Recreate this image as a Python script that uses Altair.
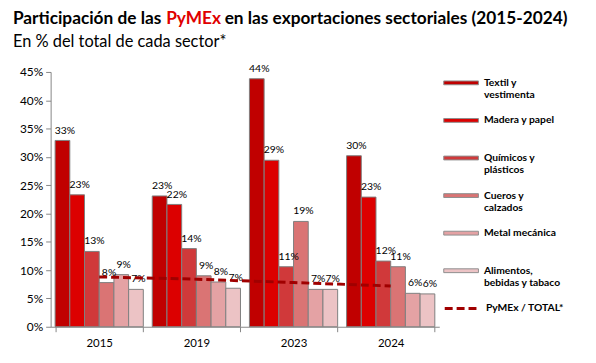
import altair as alt
import pandas as pd

years = ["2015", "2019", "2023", "2024"]
sectors = ["Textil y vestimenta", "Madera y papel", "Químicos y plásticos",
           "Cueros y calzados", "Metal mecánica", "Alimentos, bebidas y tabaco"]
legend_lines = {
    "Textil y vestimenta": ["Textil y", "vestimenta"],
    "Madera y papel": ["Madera y papel", ""],
    "Químicos y plásticos": ["Químicos y", "plásticos"],
    "Cueros y calzados": ["Cueros y", "calzados"],
    "Metal mecánica": ["Metal mecánica", ""],
    "Alimentos, bebidas y tabaco": ["Alimentos,", "bebidas y tabaco"],
}
textil = [32.9, 23.1, 43.8, 30.2]
madera = [23.3, 21.6, 29.4, 22.9]
quimicos = [13.3, 13.8, 10.6, 11.6]
cueros = [7.8, 9.0, 18.6, 10.6]
metal = [9.2, 7.9, 6.6, 5.9]
alimentos = [6.6, 6.8, 6.6, 5.8]
total = [8.8, 8.4, 7.8, 7.2]
total_name = "PyMEx / TOTAL*"
colors = ["#C00000", "#DC0000", "#D0393A", "#DA7474", "#E4A2A4", "#ECC3C5"]
y_ticks = [0, 5, 10, 15, 20, 25, 30, 35, 40, 45]
title_a = "Participación de las"
title_b = "PyMEx"
title_c = "en las exportaciones sectoriales (2015-2024)"
subtitle = "En % del total de cada sector*"

series = [textil, madera, quimicos, cueros, metal, alimentos]
rows = []
for s, vals in zip(sectors, series):
    for y, v in zip(years, vals):
        rows.append({"year": y, "sector": s, "value": v})
df = pd.DataFrame(rows)
df_tot = pd.DataFrame({"year": years, "value": total, "serie": [total_name] * len(years)})

FONT = "Lato"

label_expr = " : ".join(
    [f"datum.label == '{k}' ? {v!r}" for k, v in legend_lines.items()]
) + " : datum.label"

x_enc = alt.X("year:N", sort=years,
              scale=alt.Scale(paddingInner=0.092, paddingOuter=0.046),
              axis=alt.Axis(title=None, tickBand="extent", labelAngle=0,
                            labelPadding=6, labelFontSize=11.5))
y_enc = alt.Y("value:Q", scale=alt.Scale(domain=[0, 45], nice=False),
              axis=alt.Axis(title=None, values=y_ticks, labelExpr="datum.value + '%'",
                            labelFontSize=12, labelPadding=3, labelOverlap=False,
                            tickCount=10))
xoff = alt.XOffset("sector:N", sort=sectors,
                   scale=alt.Scale(paddingInner=0, paddingOuter=0))

bars = alt.Chart(df).mark_bar(stroke="#7F7F7F", strokeWidth=1).encode(
    x=x_enc, xOffset=xoff, y=y_enc,
    fill=alt.Fill("sector:N", sort=sectors,
                  scale=alt.Scale(domain=sectors, range=colors),
                  legend=alt.Legend(title=None, orient="none", legendX=396, legendY=-7,
                                    symbolType="M-1,-0.11H1V0.11H-1Z", symbolSize=1225,
                                    symbolStrokeColor="#8F8F8F", symbolStrokeWidth=1,
                                    rowPadding=1.9, labelExpr=label_expr,
                                    labelFont=FONT, labelFontSize=10.4, labelFontWeight="bold",
                                    labelColor="black", labelOffset=5))
)

labels = alt.Chart(df).transform_calculate(
    lab="format(datum.value, '.0f') + '%'"
).mark_text(baseline="bottom", dy=-5, dx=2.5, fontSize=10.5, font=FONT, color="black").encode(
    x=x_enc, xOffset=xoff, y=y_enc, text="lab:N"
)

line = alt.Chart(df_tot).mark_line(color="#A00000", strokeWidth=3).encode(
    x=x_enc, y=y_enc,
    strokeDash=alt.StrokeDash("serie:N",
                              scale=alt.Scale(domain=[total_name], range=[[8, 4]]),
                              legend=alt.Legend(title=None, orient="none", legendX=396, legendY=219.5,
                                                symbolType="stroke", symbolSize=1225,
                                                symbolStrokeColor="#A00000", symbolStrokeWidth=3,
                                                labelFont=FONT, labelFontSize=10.4,
                                                labelFontWeight="bold", labelColor="black",
                                                labelOffset=5))
)

def txt(s, color, size, weight, x, y):
    return alt.Chart(pd.DataFrame({"t": [s]})).mark_text(
        align="left", baseline="alphabetic", font=FONT, fontSize=size,
        fontWeight=weight, color=color
    ).encode(text="t:N", x=alt.value(x), y=alt.value(y))

t1 = txt(title_a, "black", 17.4, "bold", -38, -48)
t2 = txt(title_b, "#E00000", 17.4, "bold", 116.5, -48)
t3 = txt(title_c, "black", 17.4, "bold", 175.5, -48)
t4 = txt(subtitle, "black", 16.5, "normal", -38, -25)

chart = alt.layer(bars, labels, line, t1, t2, t3, t4).properties(
    width=392, height=257,
    padding={"left": 43, "top": 63, "right": 150, "bottom": 27},
    autosize=alt.AutoSizeParams(type="none"),
).configure_axis(
    grid=False, domainColor="#868686", tickColor="#868686", tickSize=5,
    labelFont=FONT, labelColor="black"
).configure_view(stroke=None)

chart.save("out.html", embed_options={"renderer": "svg", "actions": False})
